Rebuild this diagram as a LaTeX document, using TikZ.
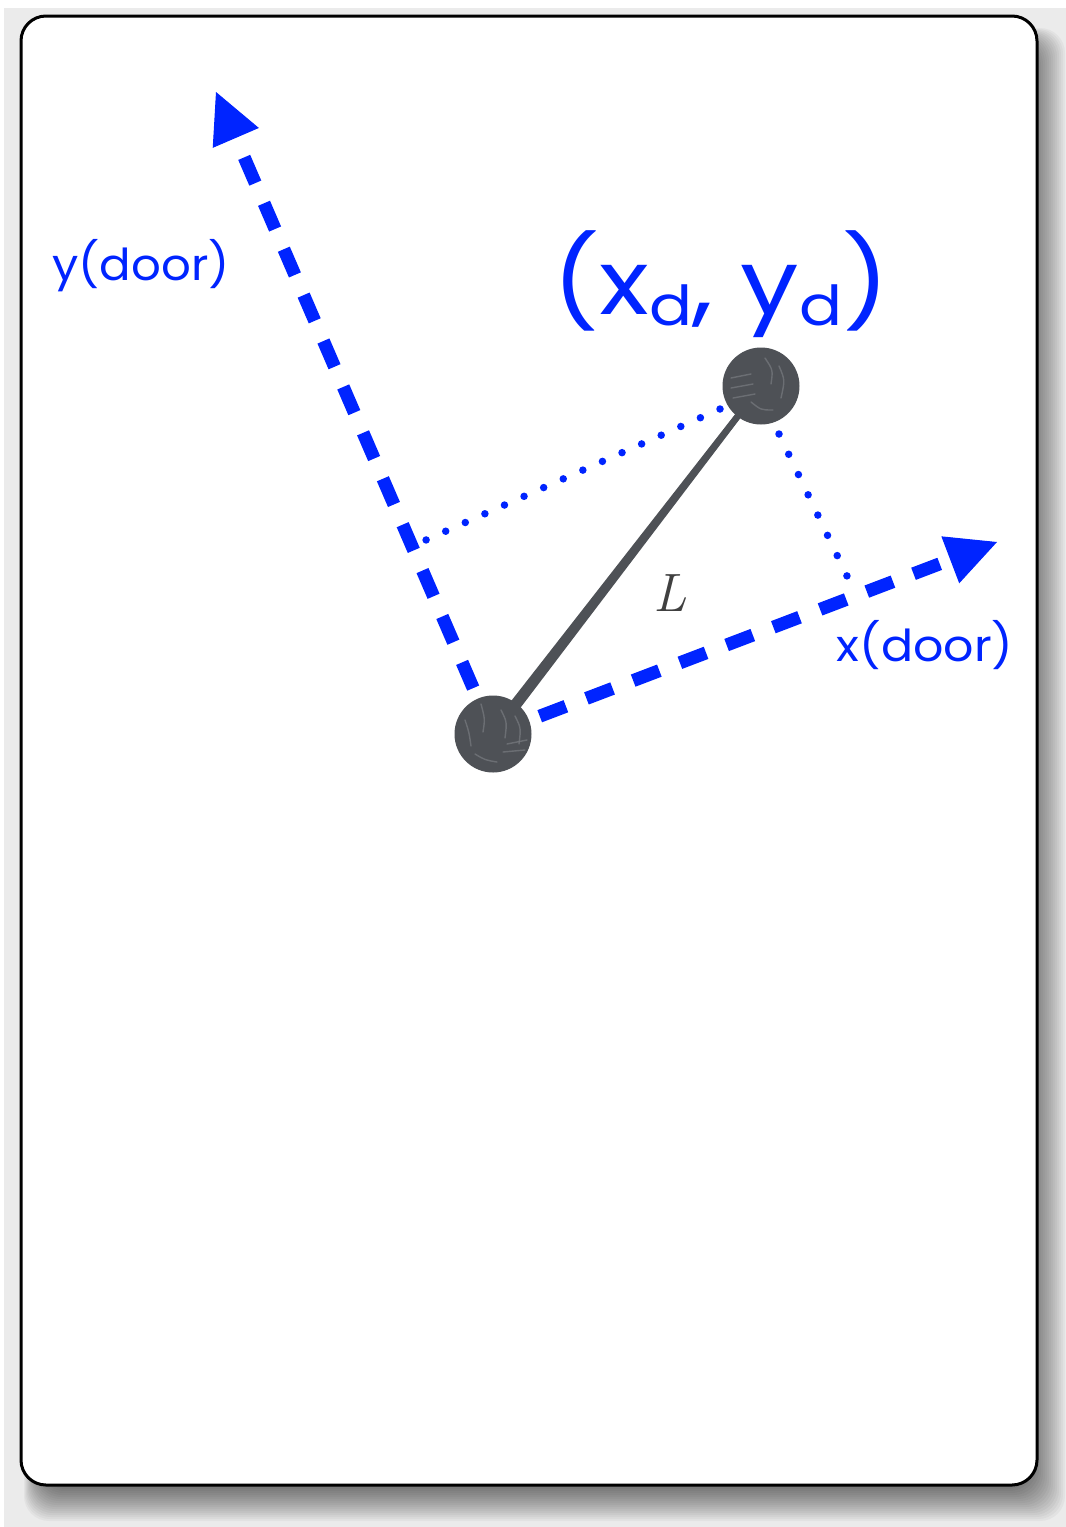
\documentclass[tikz,border=0pt]{standalone}
\usepackage{fontspec}
\newfontfamily\hand{Poppins}
\usetikzlibrary{arrows.meta,calc}
\definecolor{axisblue}{RGB}{0,36,255}
\definecolor{ballgray}{RGB}{78,81,86}
\definecolor{balllight}{RGB}{120,123,128}
\definecolor{bggray}{RGB}{235,235,235}
\definecolor{lgray}{RGB}{64,64,64}
\newcommand{\subd}{\raisebox{-0.12em}{\fontsize{54}{54}\selectfont d}}
\begin{document}
\begin{tikzpicture}[x=1pt,y=-1pt,
  card/.style={draw=black, line width=3pt, fill=white, rounded corners=25pt,
    minimum width=1016pt, minimum height=1469pt, inner sep=0pt},
  shadowlayer/.style={fill=black, fill opacity=0.036, rounded corners=25pt},
  axisline/.style={draw=axisblue, line width=13pt, dash pattern=on 28pt off 22pt,
    -{Triangle[length=50pt,width=50pt,line width=1pt]}},
  dotline/.style={draw=axisblue, line width=7.5pt, line cap=round, dash pattern=on 0pt off #1},
  ball/.style={circle, fill=ballgray, minimum size=77pt, inner sep=0pt, outer sep=0pt},
  stick/.style={draw=ballgray, line width=6pt},
  texture/.style={draw=balllight, line width=1.4pt, line cap=round, opacity=0.7},
  hlab/.style={text=axisblue, inner sep=0pt},
]
\useasboundingbox (0,0) rectangle (1066,1527);
\fill[bggray] (4,8) rectangle (1066,1527);

% soft drop shadow of the card
\foreach \e in {-16,-14,...,20} {
  \fill[shadowlayer] ({34-0.5*(\e)},{38-0.5*(\e)}) rectangle ({1045+(\e)},{1501+(\e)});
}
\node[card] (card) at (529,750.5) {};

% reference points
\coordinate (oc) at (493,734);
\coordinate (pc) at (761,386);
\coordinate (tipY) at (216,92);
\coordinate (tipX) at (997,542);
\coordinate (d1s) at (720,409);
\coordinate (d1e) at (426,540);
\coordinate (d2s) at (779,434);
\coordinate (d2e) at (847,576);

% axes
\draw[axisline] (oc) -- (tipY);
\draw[axisline] (oc) -- (tipX);

% dotted projections
\draw[dotline=21.45pt] (d1s) -- (d1e);
\draw[dotline=22.47pt] (d2s) -- (d2e);

% stick (tapered) and balls
\fill[ballgray] ($(oc)!6pt!90:(pc)$) -- ($(pc)!3pt!-90:(oc)$) -- ($(pc)!3pt!90:(oc)$) -- ($(oc)!6pt!-90:(pc)$) -- cycle;
\node[ball] (O) at (oc) {};
\node[ball] (P) at (pc) {};
\draw[stick] (O) -- (P);

% ball texture strokes
\begin{scope}[shift={(oc)}]
  \draw[texture] (-28,-14) .. controls (-24,-2) .. (-22,12);
  \draw[texture] (-12,-30) .. controls (-8,-15) .. (-10,-2);
  \draw[texture] (8,-24) .. controls (14,-12) .. (12,4);
  \draw[texture] (22,-18) .. controls (28,-6) .. (26,10);
  \draw[texture] (14,10) -- (34,6);
  \draw[texture] (10,18) -- (32,16);
  \draw[texture] (-18,20) .. controls (-8,26) .. (4,28);
\end{scope}
\begin{scope}[shift={(pc)}]
  \draw[texture] (-30,-8) -- (-10,-12);
  \draw[texture] (-30,2) -- (-8,-2);
  \draw[texture] (-28,12) -- (-6,8);
  \draw[texture] (4,-28) .. controls (12,-16) .. (10,-2);
  \draw[texture] (18,-20) .. controls (24,-6) .. (20,12);
  \draw[texture] (-10,16) .. controls (0,24) .. (12,24);
\end{scope}

% labels
\node[hlab, font=\hand\fontsize{44}{44}\selectfont] (ylab) at (141,266) {\scalebox{1.06}[1]{y(door)}};
\node[hlab, font=\hand\fontsize{44}{44}\selectfont] (xlab) at (925,645) {\scalebox{1.08}[1]{x(door)}};
\node[hlab, font=\hand\fontsize{88}{88}\selectfont] (ptlab) at (721,284) {\scalebox{1.18}[1.02]{(x\subd, y\subd)}};
\node[text=lgray, inner sep=0pt, font=\fontsize{54}{54}\selectfont\itshape] (L) at (670,593) {L};
\end{tikzpicture}
\end{document}
